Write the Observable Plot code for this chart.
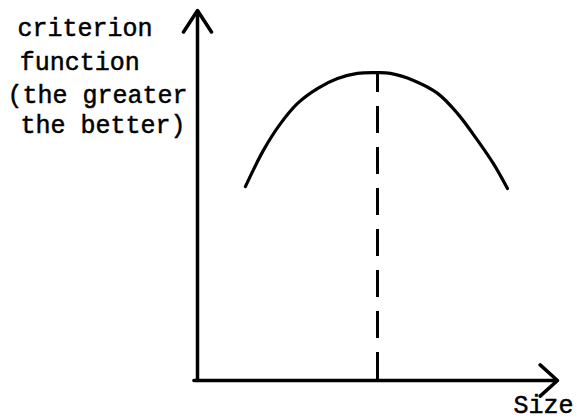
<!DOCTYPE html>
<html>
<head>
<meta charset="utf-8">
<script src="https://cdn.jsdelivr.net/npm/d3@7"></script>
<script src="https://cdn.jsdelivr.net/npm/@observablehq/plot@0.6"></script>
<style>
  html, body { margin: 0; padding: 0; background: #fff; }
  #chart { width: 577px; height: 420px; overflow: hidden; }
</style>
</head>
<body>
<div id="chart"></div>
<script>
// Criterion curve (schematic): size vs. criterion value
const curveSize      = [1.33, 1.83, 2.31, 2.78, 3.33, 3.89, 4.44, 5.00, 5.36, 6.00, 6.67, 7.22, 7.78, 8.22, 8.61];
const curveCriterion = [5.24, 6.22, 6.95, 7.49, 7.89, 8.16, 8.30, 8.32, 8.30, 8.11, 7.76, 7.22, 6.49, 5.86, 5.19];

// Optimum (peak of the curve)
const optimumSize = [5.00];
const optimumValue = [8.32];

// Axis extents
const xAxisStart = -0.1, xAxisEnd = 10;
const yAxisStart = 0, yAxisEnd = 10;

// Labels
const yLabelLines = ["criterion", "function", "(the greater", "the better)"];
const yLabelX = [-5.0, -4.94, -5.28, -4.92];
const yLabelY = [9.32, 8.38, 7.51, 6.70];
const xLabel = ["Size"];
const xLabelX = [8.78];
const xLabelY = [-0.87];

const curve = curveSize.map((s, i) => ({size: s, value: curveCriterion[i]}));
const optimum = optimumSize.map((s, i) => ({size: s, value: optimumValue[i]}));
const yLabels = yLabelLines.map((t, i) => ({text: t, x: yLabelX[i], y: yLabelY[i]}));
const xLabels = xLabel.map((t, i) => ({text: t, x: xLabelX[i], y: xLabelY[i]}));

const font = "'Liberation Mono', 'Courier New', monospace";
const textStyle = {textAnchor: "start", lineAnchor: "bottom", fontFamily: font, fontSize: 25, fill: "#000", stroke: "#000", strokeWidth: 0.5};

const chart = Plot.plot({
  width: 577,
  height: 420,
  marginLeft: 197,
  marginRight: 20,
  marginTop: 10,
  marginBottom: 40,
  x: {domain: [0, 10], axis: null},
  y: {domain: [0, 10], axis: null},
  style: {background: "#fff", overflow: "visible"},
  marks: [
    // dashed optimum line
    Plot.ruleX(optimum, {x: "size", y1: 0, y2: "value", stroke: "#000", strokeWidth: 3, strokeDasharray: "27,14", strokeDashoffset: -1}),
    // criterion curve
    Plot.line(curve, {x: "size", y: "value", curve: "catmull-rom", stroke: "#000", strokeWidth: 3.2, strokeLinecap: "round"}),
    // y axis arrow
    Plot.arrow([{}], {x1: () => 0, y1: () => yAxisStart, x2: () => 0, y2: () => yAxisEnd, stroke: "#000", strokeWidth: 3.5, headAngle: 66, headLength: 11}),
    // x axis arrow
    Plot.arrow([{}], {x1: () => xAxisStart, y1: () => 0, x2: () => xAxisEnd, y2: () => 0, stroke: "#000", strokeWidth: 3.5, headAngle: 84, headLength: 10}),
    // labels
    Plot.text(yLabels, {x: "x", y: "y", text: "text", ...textStyle}),
    Plot.text(xLabels, {x: "x", y: "y", text: "text", ...textStyle})
  ]
});
document.getElementById("chart").appendChild(chart);
</script>
</body>
</html>
